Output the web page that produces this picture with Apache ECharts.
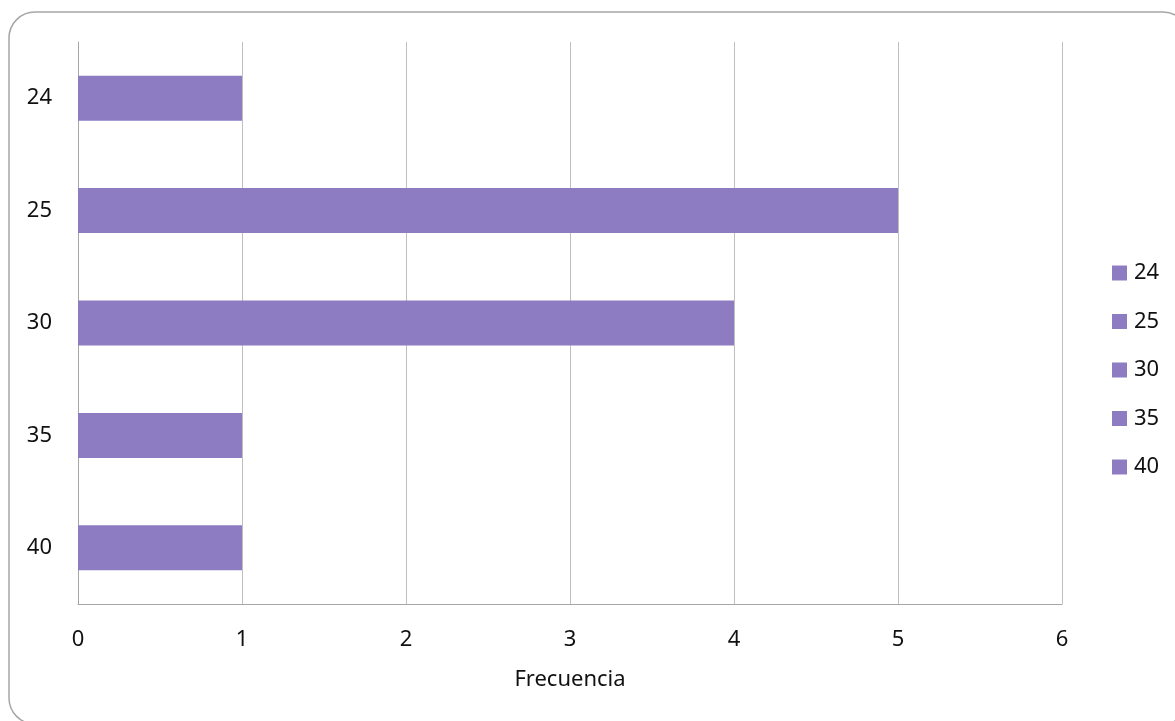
<!DOCTYPE html>
<html>
<head>
<meta charset="utf-8">
<script src="https://cdn.jsdelivr.net/npm/echarts@6/dist/echarts.min.js"></script>
<style>
html,body{margin:0;padding:0;background:#fff;}
#chart{width:1175px;height:721px;}
</style>
</head>
<body>
<div id="chart"></div>
<script>
const categories = ['24', '25', '30', '35', '40'];
const values = [1, 5, 4, 1, 1];
const xTicks = [0, 1, 2, 3, 4, 5, 6];
const xAxisName = 'Frecuencia';

const barColor = '#8E7CC3';
const font = 'Noto Sans';
const textColor = '#111';

const chart = echarts.init(document.getElementById('chart'));

const series = categories.map((c, i) => ({
  name: c,
  type: 'bar',
  stack: 'total',
  barWidth: '40%',
  itemStyle: { color: barColor },
  data: categories.map((_, j) => (j === i ? values[i] : '-'))
}));

chart.setOption({
  animation: false,
  graphic: [{
    type: 'rect',
    shape: { x: 9, y: 12, width: 1180, height: 712, r: 26 },
    style: { fill: 'none', stroke: '#a6a6a6', lineWidth: 1.5 },
    silent: true,
    z: -1
  }],
  grid: { left: 78, right: 113, top: 42, bottom: 117, containLabel: false },
  legend: {
    orient: 'vertical',
    left: 1112,
    top: 262,
    padding: 0,
    itemWidth: 15,
    itemHeight: 15,
    itemGap: 26.5,
    icon: 'rect',
    textStyle: { fontFamily: font, fontSize: 22, color: textColor, lineHeight: 22, padding: [0, 0, 0, 2] },
    data: categories
  },
  xAxis: {
    type: 'value',
    min: xTicks[0],
    max: xTicks[xTicks.length - 1],
    interval: 1,
    name: xAxisName,
    nameLocation: 'middle',
    nameGap: 65,
    nameTextStyle: { fontFamily: font, fontSize: 22, color: textColor },
    axisLine: { show: true, lineStyle: { color: '#a6a6a6', width: 1 } },
    axisTick: { show: false },
    axisLabel: { fontFamily: font, fontSize: 22, color: textColor, margin: 25 },
    splitLine: { show: true, lineStyle: { color: '#bfbfbf', width: 1 } }
  },
  yAxis: {
    type: 'category',
    inverse: true,
    data: categories,
    axisLine: { show: true, lineStyle: { color: '#a6a6a6', width: 1 } },
    axisTick: { show: false },
    axisLabel: { fontFamily: font, fontSize: 22, color: textColor, margin: 26 }
  },
  series: series
});
</script>
</body>
</html>
